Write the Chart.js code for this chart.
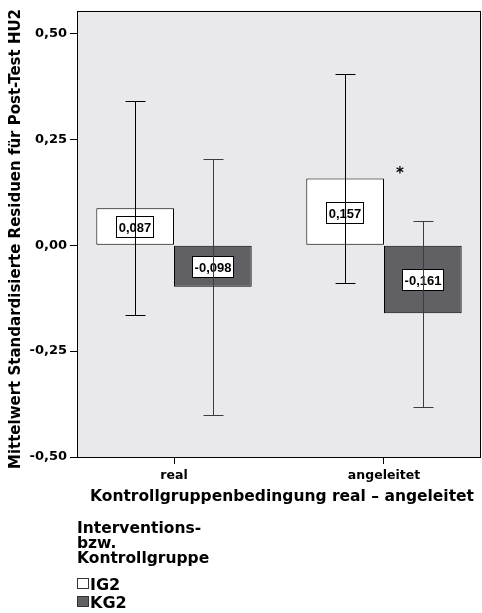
<!DOCTYPE html>
<html>
<head>
<meta charset="utf-8">
<script src="https://cdn.jsdelivr.net/npm/chart.js@4"></script>
<style>
  html, body { margin: 0; padding: 0; background: #fff; }
  #wrap { width: 482px; height: 613px; }
</style>
</head>
<body>
<div id="wrap"><canvas id="chart"></canvas></div>
<script>
// data
const categories = ['real', 'angeleitet'];
const groups = ['IG2', 'KG2'];
const ig2Means = [0.087, 0.157];
const kg2Means = [-0.098, -0.161];
const ig2Lower = [-0.166, -0.089];
const ig2Upper = [0.341, 0.403];
const kg2Lower = [-0.401, -0.382];
const kg2Upper = [0.204, 0.057];
const yTicks = [-0.5, -0.25, 0, 0.25, 0.5];
const starMark = [1.076, 0.175]; // significance star: category index, y value
const legendTitle = ['Interventions-', 'bzw.', 'Kontrollgruppe'];

const BOLD = 'bold 15.5px "DejaVu Sans"';
const comma = (v, d) => v.toFixed(d).replace('.', ',');

const datasets = [
    { label: groups[0], means: ig2Means, lower: ig2Lower, upper: ig2Upper, fill: '#ffffff', whisker: '#000000' },
    { label: groups[1], means: kg2Means, lower: kg2Lower, upper: kg2Upper, fill: '#616165', whisker: '#3c3c3c' }
].map(g => ({
    label: g.label,
    data: g.means.map((m, i) => ({ x: i, y: m })),
    lower: g.lower,
    upper: g.upper,
    whisker: g.whisker,
    backgroundColor: g.fill,
    borderColor: '#000000',
    borderWidth: 1,
    borderSkipped: false,
    categoryPercentage: 0.74,
    barPercentage: 1
}));

// plot background + frame
const frame = {
    id: 'frame',
    beforeDraw(chart) {
        const a = chart.chartArea, ctx = chart.ctx;
        ctx.save();
        ctx.fillStyle = '#e9e9eb';
        ctx.fillRect(a.left, a.top, a.right - a.left, a.bottom - a.top);
        ctx.restore();
    },
    afterDraw(chart) {
        const a = chart.chartArea, ctx = chart.ctx;
        ctx.save();
        ctx.strokeStyle = '#000';
        ctx.lineWidth = 1;
        ctx.strokeRect(Math.round(a.left) + 0.5, Math.round(a.top) + 0.5,
            Math.round(a.right - a.left) - 1, Math.round(a.bottom - a.top));
        ctx.restore();
    }
};

// value boxes, whiskers, star
const annotations = {
    id: 'annotations',
    afterDatasetsDraw(chart) {
        const ctx = chart.ctx;
        ctx.save();
        ctx.font = 'bold 13px "Liberation Sans"';
        ctx.textAlign = 'center';
        ctx.textBaseline = 'middle';
        chart.data.datasets.forEach((ds, di) => {
            chart.getDatasetMeta(di).data.forEach((bar, i) => {
                const txt = comma(ds.data[i].y, 3);
                const w = Math.round(ctx.measureText(txt).width) + 5;
                const cx = Math.round(bar.x);
                const cy = Math.round((bar.y + bar.base) / 2) + 1;
                ctx.fillStyle = '#fff';
                ctx.fillRect(cx - w / 2, cy - 11, w, 22);
                ctx.strokeStyle = '#000';
                ctx.lineWidth = 1;
                ctx.strokeRect(cx - Math.round(w / 2) + 0.5, cy - 10.5, Math.round(w) - 1, 21);
                ctx.fillStyle = '#000';
                ctx.fillText(txt, cx, cy + 1);
            });
        });
        const ys = chart.scales.y;
        chart.data.datasets.forEach((ds, di) => {
            chart.getDatasetMeta(di).data.forEach((bar, i) => {
                const x = Math.round(bar.x) + 0.5;
                const top = Math.round(ys.getPixelForValue(ds.upper[i])) + 0.5;
                const bot = Math.round(ys.getPixelForValue(ds.lower[i])) + 0.5;
                ctx.strokeStyle = ds.whisker;
                ctx.lineWidth = 1;
                ctx.beginPath();
                ctx.moveTo(x, top); ctx.lineTo(x, bot);
                ctx.moveTo(x - 10, top); ctx.lineTo(x + 10, top);
                ctx.moveTo(x - 10, bot); ctx.lineTo(x + 10, bot);
                ctx.stroke();
            });
        });
        ctx.fillStyle = '#000';
        ctx.font = 'bold 15px "DejaVu Sans"';
        ctx.fillText('*', chart.scales.x.getPixelForValue(starMark[0]), ys.getPixelForValue(starMark[1]) + 3);
        ctx.restore();
    }
};

// axis titles and SPSS-style legend
const texts = {
    id: 'texts',
    afterDraw(chart) {
        const ctx = chart.ctx;
        ctx.save();
        ctx.fillStyle = '#000';
        ctx.font = 'bold 15px "DejaVu Sans"';
        ctx.textAlign = 'center';
        ctx.textBaseline = 'middle';
        ctx.translate(16, 239);
        ctx.rotate(-Math.PI / 2);
        ctx.fillText('Mittelwert Standardisierte Residuen für Post-Test HU2', 0, 0);
        ctx.restore();

        ctx.save();
        ctx.fillStyle = '#000';
        ctx.font = BOLD;
        ctx.textAlign = 'center';
        ctx.textBaseline = 'middle';
        ctx.fillText('Kontrollgruppenbedingung real \u2013 angeleitet', 282, 497);

        ctx.textAlign = 'left';
        ctx.textBaseline = 'alphabetic';
        legendTitle.forEach((line, i) => ctx.fillText(line, 77, 533 + i * 15));
        ctx.font = 'bold 16px "DejaVu Sans"';
        chart.data.datasets.forEach((ds, i) => {
            const y = 590 + i * 18;
            ctx.fillStyle = ds.backgroundColor;
            ctx.fillRect(77, y - 12, 12, 11);
            ctx.strokeStyle = '#333';
            ctx.lineWidth = 1;
            ctx.strokeRect(77.5, y - 11.5, 11, 10);
            ctx.fillStyle = '#000';
            ctx.fillText(ds.label, 90, y);
        });
        ctx.restore();
    }
};

new Chart(document.getElementById('chart'), {
    type: 'bar',
    data: { datasets: datasets },
    options: {
        responsive: true,
        maintainAspectRatio: false,
        animation: false,
        devicePixelRatio: 1,
        layout: { padding: { top: 9, right: 1, left: 0, bottom: 0 } },
        plugins: { legend: { display: false }, tooltip: { enabled: false } },
        scales: {
            x: {
                type: 'linear',
                offset: false,
                min: -0.462,
                max: 1.462,
                afterBuildTicks: s => { s.ticks = categories.map((c, i) => ({ value: i })); },
                afterFit: s => { s.height = 156; },
                grid: { offset: false, drawOnChartArea: false, drawTicks: true, tickLength: 7, color: '#000' },
                border: { display: false },
                ticks: {
                    callback: (v, i) => categories[i],
                    font: { family: 'DejaVu Sans', weight: 'bold', size: 12.5 },
                    color: '#000',
                    padding: 4,
                    maxRotation: 0
                }
            },
            y: {
                min: -0.5,
                max: 0.553,
                afterBuildTicks: s => { s.ticks = yTicks.map(v => ({ value: v })); },
                afterFit: s => { s.width = 77; },
                grid: { drawOnChartArea: false, drawTicks: true, tickLength: 7, color: '#000' },
                border: { display: false },
                ticks: {
                    callback: v => comma(v, 2),
                    font: { family: 'DejaVu Sans', weight: 'bold', size: 13 },
                    color: '#000',
                    padding: 3
                }
            }
        }
    },
    plugins: [frame, annotations, texts]
});
</script>
</body>
</html>
